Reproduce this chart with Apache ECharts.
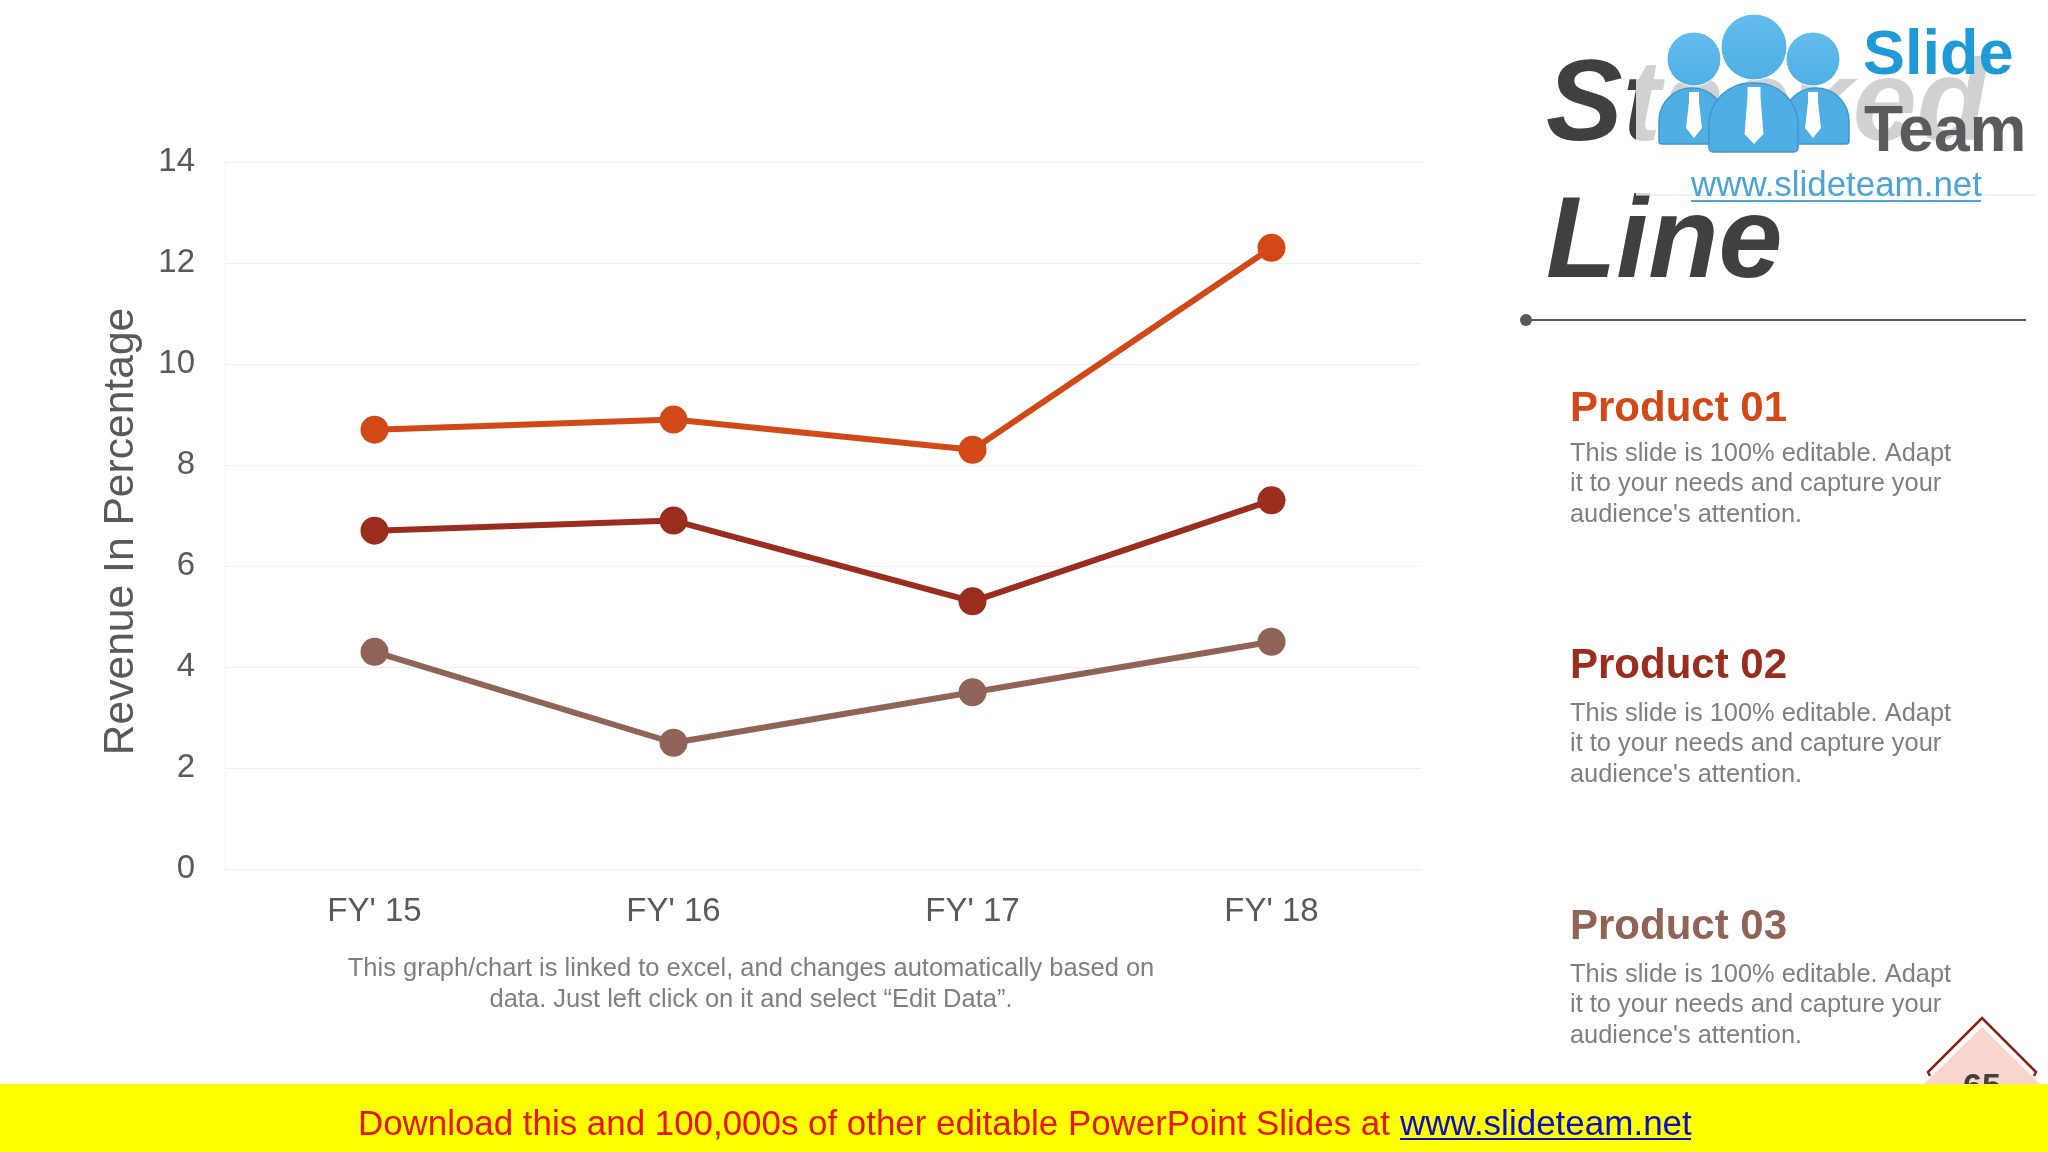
<!DOCTYPE html>
<html><head><meta charset="utf-8">
<style>html,body{margin:0;padding:0;background:#fff}#c{width:2048px;height:1152px}</style>
<script src="https://cdn.jsdelivr.net/npm/echarts@6/dist/echarts.min.js"></script>
</head><body><div id="c"></div>
<script>
const categories = ["FY' 15", "FY' 16", "FY' 17", "FY' 18"];
const product01 = [8.7, 8.9, 8.3, 12.3];
const product02 = [6.7, 6.9, 5.3, 7.3];
const product03 = [4.3, 2.5, 3.5, 4.5];
const seriesNames = ['Product 01', 'Product 02', 'Product 03'];
const seriesColors = ['#D34817', '#9B2D1F', '#8F6355'];
const yAxisName = 'Revenue In Percentage';
const blurbLines = ['This slide is 100% editable. Adapt', 'it to your needs and capture your', "audience's attention."];
const noteLines = ['This graph/chart is linked to excel, and changes automatically based on', 'data. Just left click on it and select \u201CEdit Data\u201D.'];
const FF = '"Liberation Sans", Arial, sans-serif';

function txt(text, x, y, font, fill, align) {
  return {type:'text', style:{text, x, y, font:font+' '+FF, fill, textAlign:align||'left', textVerticalAlign:'bottom'}};
}
const g = [];
// title
g.push(txt('Stacked', 1546, 166, 'italic bold 115px', '#404040'));
g.push(txt('Line', 1546, 303, 'italic bold 115px', '#404040'));
g.push({type:'rect', shape:{x:1636,y:0,width:400,height:195}, style:{fill:'rgba(255,255,255,0.76)'}});
g.push({type:'line', shape:{x1:1636,y1:195,x2:2036,y2:195}, style:{stroke:'#e2e2e2',lineWidth:1}});
// logo
const blue='#4FAEE3', blueD='#3F97CF';
[[1694,59,27],[1813,59,27],[1754,47,33]].forEach(c=>g.push({type:'circle',shape:{cx:c[0],cy:c[1],r:c[2]},style:{fill:new echarts.graphic.LinearGradient(0,0,0,1,[{offset:0,color:'#63BDEE'},{offset:1,color:blue}]),stroke:'#ffffff',lineWidth:1}}));
[[1659,88,66,56,[33,33,3,3]],[1783,88,66,56,[33,33,3,3]],[1709,83,89,69,[42,42,4,4]]].forEach(b=>g.push({type:'rect',shape:{x:b[0],y:b[1],width:b[2],height:b[3],r:b[4]},style:{fill:blue,stroke:blueD,lineWidth:1.5}}));
[[1694,92,12,46],[1754,87,15,57],[1813,92,12,46]].forEach(t=>{
  const [cx,y,w,h]=t;
  g.push({type:'polygon',shape:{points:[[cx-w/2+1,y],[cx+w/2-1,y],[cx+w/2-1,y+10],[cx+w/2+2,y+h-10],[cx,y+h],[cx-w/2-2,y+h-10],[cx-w/2+1,y+10]]},style:{fill:'#fff'}});
});
g.push(txt('Slide', 1863, 88, 'bold 63px', '#1E9BD7'));
g.push(txt('Team', 1864, 165, 'bold 64px', '#5A5A5F'));
g.push(txt('www.slideteam.net', 1691, 204, '34.9px', '#4BA3D6'));
g.push({type:'line',shape:{x1:1691,y1:201,x2:1981,y2:201},style:{stroke:'#4BA3D6',lineWidth:2}});
// rule
g.push({type:'line',shape:{x1:1525,y1:320,x2:2026,y2:320},style:{stroke:'#595959',lineWidth:2}});
g.push({type:'circle',shape:{cx:1526,cy:320,r:6},style:{fill:'#595959'}});
// products
const titleY=[430,687,948];
const blurbY=[466,726,987];
seriesNames.forEach((n,i)=>{
  g.push(txt(n,1570,titleY[i],'bold 42px',seriesColors[i]));
  blurbLines.forEach((l,j)=>g.push(txt(l,1570,blurbY[i]+j*30.7,'25.4px','#7F7F7F')));
});
// note
noteLines.forEach((l,j)=>g.push(txt(l,751,982+j*30.7,'25.5px','#7F7F7F','center')));
// page badge
g.push({type:'polygon',shape:{points:[[1982,1027],[2040,1084],[2040,1090],[1924,1090],[1924,1084]]},style:{fill:'#F8D5CD'}});
g.push({type:'polyline',shape:{points:[[1930,1076],[1928,1072],[1982,1018],[2036,1072],[2034,1076]]},style:{stroke:'#8B1F14',lineWidth:2.5,fill:'none'}});
g.push(txt('65',1982,1105,'bold 34px','#404040','center'));
// footer
g.push({type:'rect',shape:{x:0,y:1084,width:2048,height:68},style:{fill:'#FFFF00'}});
g.push(txt('Download this and 100,000s of other editable PowerPoint Slides at',358,1143,'34.9px','#E8140C'));
g.push(txt('www.slideteam.net',1400,1143,'35px','#0B0BC8'));
g.push({type:'line',shape:{x1:1400,y1:1139,x2:1691,y2:1139},style:{stroke:'#0B0BC8',lineWidth:2}});

const chart = echarts.init(document.getElementById('c'));
chart.setOption({
  animation:false,
  backgroundColor:'#fff',
  grid:{left:225,right:627,top:162,bottom:283,containLabel:false},
  xAxis:{type:'category',data:categories,boundaryGap:true,
    axisLine:{lineStyle:{color:'#EFEFEF'}},axisTick:{show:false},
    axisLabel:{color:'#595959',fontSize:33,fontFamily:FF,margin:26}},
  yAxis:{type:'value',min:0,max:14,interval:2,name:yAxisName,nameLocation:'middle',nameGap:82,
    nameTextStyle:{color:'#595959',fontSize:42.6,fontFamily:FF,padding:[0,32,0,0]},
    axisLine:{show:true,lineStyle:{color:'#F2F2F2'}},axisTick:{show:false},
    splitLine:{lineStyle:{color:'#F0F0F0',width:1}},
    axisLabel:{color:'#595959',fontSize:33,fontFamily:FF,margin:30,padding:[4,0,0,0]}},
  series:[product01,product02,product03].map((d,i)=>({
    type:'line',name:seriesNames[i],data:d,symbol:'circle',symbolSize:28,
    lineStyle:{color:seriesColors[i],width:6},itemStyle:{color:seriesColors[i]}
  })),
  graphic:{elements:g}
});
</script></body></html>
